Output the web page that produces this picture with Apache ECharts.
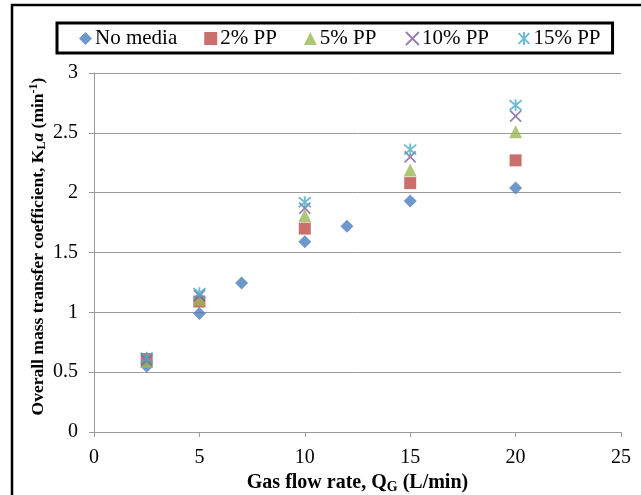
<!DOCTYPE html>
<html>
<head>
<meta charset="utf-8">
<script src="https://cdn.jsdelivr.net/npm/echarts@6/dist/echarts.min.js"></script>
<style>
  html, body { margin: 0; padding: 0; background: #fff; }
  #chart { width: 641px; height: 495px; }
</style>
</head>
<body>
<div id="chart"></div>
<script>
// values
const noMediaX = [2.5, 5, 7, 10, 12, 15, 20];
const noMediaY = [0.55, 0.99, 1.245, 1.59, 1.72, 1.93, 2.04];
const ppX = [2.5, 5, 10, 15, 20];
const pp2 = [0.61, 1.09, 1.70, 2.08, 2.27];
const pp5 = [0.59, 1.11, 1.81, 2.19, 2.51];
const pp10 = [0.60, 1.14, 1.87, 2.30, 2.64];
const pp15 = [0.62, 1.16, 1.92, 2.36, 2.73];
const seriesNames = ['No media', '2% PP', '5% PP', '10% PP', '15% PP'];

const font = "'Liberation Serif', 'Times New Roman', serif";
const crossPath = 'path://M0,0L10,10M10,0L0,10';
const starPath = 'path://M0,0L10,10M10,0L0,10M5,-1L5,11';

function pairs(xs, ys) {
  return xs.map((x, i) => [x, ys[i]]);
}

const chart = echarts.init(document.getElementById('chart'));

const option = {
  animation: false,
  textStyle: { fontFamily: font },
  graphic: [{
    type: 'rect',
    shape: { x: 12, y: 5, width: 700, height: 600 },
    style: { fill: 'none', stroke: '#000', lineWidth: 2.5 }
  }],
  legend: {
    data: seriesNames,
    left: 57,
    top: 23,
    padding: [5, 12, 4, 22],
    borderColor: '#000',
    borderWidth: 3,
    itemGap: 27,
    itemWidth: 13,
    itemHeight: 13,
    textStyle: { fontFamily: font, fontSize: 21, color: '#000', padding: [0, 0, 0, -2] }
  },
  grid: { left: 94, right: 20, top: 73, bottom: 63, outerBoundsMode: 'none', containLabel: false },
  xAxis: {
    type: 'value',
    min: 0,
    max: 25,
    interval: 5,
    name: 'Gas flow rate, Q{sub|G} (L/min)',
    nameLocation: 'middle',
    nameGap: 38,
    nameTextStyle: {
      fontFamily: font, fontSize: 20, fontWeight: 'bold', color: '#000',
      rich: { sub: { fontFamily: font, fontSize: 14, fontWeight: 'bold', padding: [9, 0, 0, 0] } }
    },
    axisLine: { lineStyle: { color: '#9a9a9a' } },
    axisTick: { show: true, length: 5, lineStyle: { color: '#9a9a9a' } },
    axisLabel: { fontFamily: font, fontSize: 20, color: '#000', margin: 16 },
    splitLine: { show: false }
  },
  yAxis: {
    type: 'value',
    min: 0,
    max: 3,
    interval: 0.5,
    name: 'Overall mass transfer coefficient, K{sub|L}{it|a} (min{sup|-1})',
    nameLocation: 'middle',
    nameGap: 46,
    nameMoveOverlap: false,
    nameTextStyle: {
      fontFamily: font, fontSize: 17.5, fontWeight: 'bold', color: '#000',
      padding: [0, 0, 0, 12],
      rich: {
        sub: { fontFamily: font, fontSize: 12, fontWeight: 'bold', padding: [8, 0, 0, 0] },
        it: { fontFamily: font, fontSize: 17.5, fontWeight: 'bold', fontStyle: 'italic' },
        sup: { fontFamily: font, fontSize: 12, fontWeight: 'bold', padding: [0, 0, 8, 0] }
      }
    },
    axisLine: { show: true, lineStyle: { color: '#9a9a9a' } },
    axisTick: { show: true, length: 5, lineStyle: { color: '#9a9a9a' } },
    axisLabel: { fontFamily: font, fontSize: 20, color: '#000', margin: 16 },
    splitLine: { lineStyle: { color: '#9a9a9a' } }
  },
  series: [
    {
      name: 'No media', type: 'scatter', symbol: 'diamond', symbolSize: 13,
      itemStyle: { color: '#4a7ebb' },
      data: pairs(noMediaX, noMediaY)
    },
    {
      name: '2% PP', type: 'scatter', symbol: 'rect', symbolSize: 12,
      itemStyle: { color: '#be4b48' },
      data: pairs(ppX, pp2)
    },
    {
      name: '5% PP', type: 'scatter', symbol: 'triangle', symbolSize: 13,
      itemStyle: { color: '#98b954' },
      data: pairs(ppX, pp5)
    },
    {
      name: '10% PP', type: 'scatter', symbol: crossPath, symbolSize: 11,
      itemStyle: { color: 'none', borderColor: '#7d60a0', borderWidth: 1.8 },
      data: pairs(ppX, pp10)
    },
    {
      name: '15% PP', type: 'scatter', symbol: starPath, symbolSize: 12,
      itemStyle: { color: 'none', borderColor: '#46aac5', borderWidth: 1.8 },
      data: pairs(ppX, pp15)
    }
  ]
};

chart.setOption(option);
</script>
</body>
</html>
